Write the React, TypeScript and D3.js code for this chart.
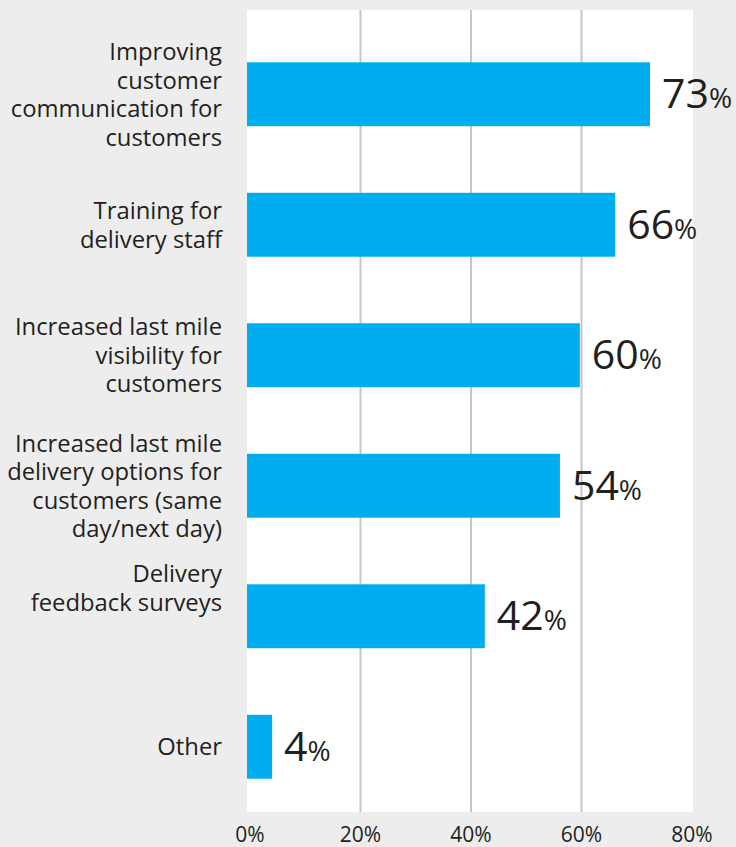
import React from "react";
import * as d3 from "d3";

const categories = [
  "Improving\ncustomer\ncommunication for\ncustomers",
  "Training for\ndelivery staff",
  "Increased last mile\nvisibility for\ncustomers",
  "Increased last mile\ndelivery options for\ncustomers (same\nday/next day)",
  "Delivery\nfeedback surveys\n\n",
  "Other",
];
// printed labels
const valueLabels = [73, 66, 60, 54, 42, 4];
// bar lengths as drawn in the picture
const barValues = [72.4, 66.1, 59.7, 56.1, 42.5, 4.0];
const xTicks = [0, 20, 40, 60, 80];
const gridTicks = [20, 40, 60];

const W = 736;
const H = 847;
const plotLeft = 247;
const plotRight = 693;
const plotTop = 10;
const plotBottom = 812;
const textColor = "#231f20";
const font = "'Open Sans', 'Noto Sans', sans-serif";

export default function App() {
  const x = d3.scaleLinear().domain([0, 80]).range([250, 692]);
  const y = d3
    .scaleBand<number>()
    .domain(d3.range(categories.length))
    .range([29, 812])
    .paddingInner(0.51)
    .paddingOuter(0.255);
  const lh = 28.5;

  return (
    <svg
      width={W}
      height={H}
      style={{ position: "absolute", left: 0, top: 0, background: "#ededed" }}
      fontFamily={font}
    >
      <rect x={0} y={0} width={W} height={H} fill="#ededed" />
      <rect
        x={plotLeft}
        y={plotTop}
        width={plotRight - plotLeft}
        height={plotBottom - plotTop}
        fill="#ffffff"
      />
      {gridTicks.map((t) => (
        <line
          key={t}
          x1={x(t)}
          x2={x(t)}
          y1={plotTop}
          y2={plotBottom}
          stroke="#c6c6c6"
          strokeWidth={2}
        />
      ))}
      {barValues.map((v, i) => {
        const y0 = y(i)!;
        const bw = y.bandwidth();
        const cy = y0 + bw / 2;
        return (
          <g key={i}>
            <rect
              x={plotLeft}
              y={y0}
              width={x(v) - plotLeft}
              height={bw}
              fill="#00aeef"
            />
            <text x={x(v) + 12} y={cy + 14} fill={textColor}>
              <tspan fontSize={41}>{valueLabels[i]}</tspan>
              <tspan fontSize={28}>%</tspan>
            </text>
          </g>
        );
      })}
      {categories.map((c, i) => {
        const lines = c.split("\n");
        const cy = y(i)! + y.bandwidth() / 2;
        const first = cy - ((lines.length - 1) / 2) * lh + 8.5;
        return (
          <text key={i} textAnchor="end" fontSize={23.8} fill={textColor}>
            {lines.map((l, j) => (
              <tspan key={j} x={222} y={first + j * lh}>
                {l}
              </tspan>
            ))}
          </text>
        );
      })}
      {xTicks.map((t) => (
        <text
          key={t}
          x={x(t)}
          y={842}
          textAnchor="middle"
          fontSize={21}
          fill={textColor}
        >
          {t}%
        </text>
      ))}
    </svg>
  );
}
